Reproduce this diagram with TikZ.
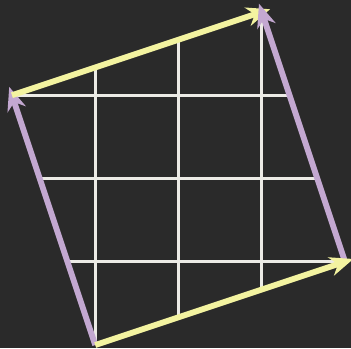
\documentclass[tikz,border=0pt]{standalone}
\usetikzlibrary{arrows.meta}
\definecolor{board}{HTML}{2A2A2A}
\definecolor{chalk}{HTML}{ECEBE6}
\definecolor{chalkyellow}{HTML}{F3F3A0}
\definecolor{chalkpurple}{HTML}{C3A8D1}
\tikzset{
  gridline/.style={draw=chalk, line width=1.1pt},
  vecarrow/.style={line width=2pt, -{Stealth[length=8pt,width=6.5pt,inset=2.5pt]}, shorten >=-3pt},
  yvec/.style={vecarrow, draw=chalkyellow},
  pvec/.style={vecarrow, draw=chalkpurple},
}
\begin{document}
\begin{tikzpicture}
\fill[board] (-0.144,-0.036) rectangle (4.072,4.144);
\useasboundingbox (-0.144,-0.036) rectangle (4.072,4.144);
\coordinate (O) at (1,0);
\coordinate (U) at (4,1);
\coordinate (V) at (0,3);
\coordinate (W) at (3,4);
\begin{scope}
  \clip (O) -- (U) -- (W) -- (V) -- cycle;
  \foreach \k in {1,2,3} {
    \draw[gridline] (\k,-0.1) -- (\k,4.1);
    \draw[gridline] (-0.1,\k) -- (4.1,\k);
  }
\end{scope}
\draw[pvec] (O) -- (V);
\draw[yvec] (V) -- (W);
\draw[pvec] (U) -- (W);
\draw[yvec] (O) -- (U);
\end{tikzpicture}
\end{document}
